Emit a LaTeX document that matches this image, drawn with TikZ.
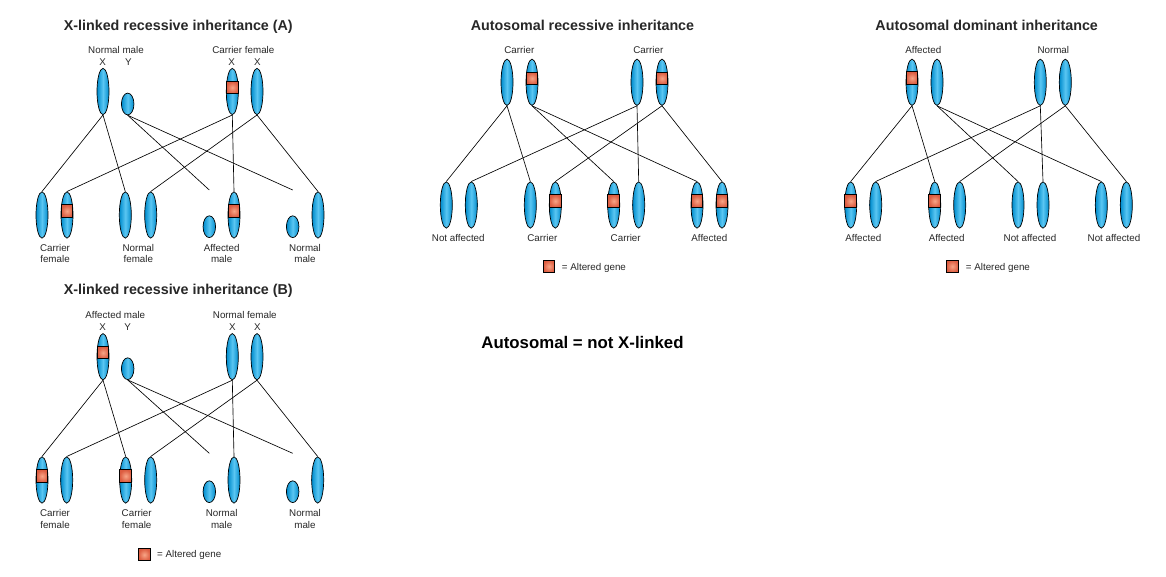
\documentclass[tikz,border=0pt]{standalone}
\usepackage{fontspec}
\setmainfont{Liberation Sans}
\usetikzlibrary{shapes.geometric}
\definecolor{cdark}{RGB}{0,95,160}
\definecolor{cblue}{RGB}{0,140,205}
\definecolor{clight}{RGB}{90,198,242}
\definecolor{gdark}{RGB}{220,92,64}
\definecolor{glight}{RGB}{248,165,135}
\definecolor{txt}{RGB}{40,40,40}
\pgfdeclarehorizontalshading{chromshade}{100bp}{color(0bp)=(cdark); color(25bp)=(cblue); color(50bp)=(clight); color(75bp)=(cblue); color(100bp)=(cdark)}
\tikzset{
  chrom/.style={ellipse, draw=black, line width=0.7pt, minimum width=12pt, minimum height=46.3pt, inner sep=0pt, shading=chromshade},
  ychrom/.style={chrom, minimum width=12.5pt, minimum height=21.8pt},
  gene/.style={rectangle, draw=black, line width=0.9pt, minimum width=11.8pt, minimum height=12.2pt, inner sep=0pt, inner color=glight, outer color=gdark},
  link/.style={draw=black, line width=0.65pt},
  ttl/.style={anchor=base, inner sep=0pt, text=txt, font=\fontsize{14.3}{16}\selectfont\bfseries},
  lbl/.style={anchor=base, inner sep=0pt, text=txt, font=\fontsize{9.8}{11}\selectfont},
  lgd/.style={anchor=base west, inner sep=0pt, text=txt, font=\fontsize{9.8}{11}\selectfont},
  big/.style={anchor=base, inner sep=0pt, text=black, font=\fontsize{16.8}{19}\selectfont\bfseries}
}
\begin{document}
\begin{tikzpicture}[x=1pt,y=-1pt]
\useasboundingbox (0,0) rectangle (1166,576);
\fill[white] (0,0) rectangle (1166,576);

% ================= Panel A =================
\node[ttl] (aT) at (178.3,30.5) {X-linked recessive inheritance (A)};
\node[lbl] (aL1) at (116,53.3) {Normal male};
\node[lbl] (aL1x) at (102.7,65.3) {X};
\node[lbl] (aL1y) at (128.3,65.3) {Y};
\node[lbl] (aL2) at (243.3,53.3) {Carrier female};
\node[lbl] (aL2x) at (231.7,65.3) {X};
\node[lbl] (aL2xx) at (257.3,65.3) {X};

\node[chrom] (aPX) at (103,91.5) {};
\node[ychrom] (aPY) at (127.7,104) {};
\node[chrom] (aPF1) at (232.3,91.5) {};
\node[gene] (aPF1g) at (232.3,87.5) {};
\node[chrom] (aPF2) at (257,91.5) {};

\node[chrom] (aC1a) at (42,215) {};
\node[chrom] (aC1b) at (67,215) {};
\node[gene] (aC1bg) at (67,211) {};
\node[chrom] (aC2a) at (125.3,215) {};
\node[chrom] (aC2b) at (150.7,215) {};
\node[ychrom] (aC3y) at (209.3,226.7) {};
\node[chrom] (aC3x) at (234,215) {};
\node[gene] (aC3xg) at (234,211) {};
\node[ychrom] (aC4y) at (292.7,226.7) {};
\node[chrom] (aC4x) at (318,215) {};
\coordinate (aE3) at (209.3,190);
\coordinate (aE4) at (292.7,190);

\draw[link] (aPX.south) -- (aC1a.north);
\draw[link] (aPX.south) -- (aC2a.north);
\draw[link] (aPY.south) -- (aE3);
\draw[link] (aPY.south) -- (aE4);
\draw[link] (aPF1.south) -- (aC1b.north);
\draw[link] (aPF1.south) -- (aC3x.north);
\draw[link] (aPF2.south) -- (aC2b.north);
\draw[link] (aPF2.south) -- (aC4x.north);

\node[lbl] (aK1a) at (55,251.7) {Carrier};
\node[lbl] (aK1b) at (55,262.3) {female};
\node[lbl] (aK2a) at (138.3,251.7) {Normal};
\node[lbl] (aK2b) at (138.3,262.3) {female};
\node[lbl] (aK3a) at (221.7,251.7) {Affected};
\node[lbl] (aK3b) at (221.7,262.3) {male};
\node[lbl] (aK4a) at (305,251.7) {Normal};
\node[lbl] (aK4b) at (305,262.3) {male};

% ================= Autosomal recessive =================
\node[ttl] (rT) at (582.5,30.5) {Autosomal recessive inheritance};
\node[lbl] (rL1) at (519.3,53.3) {Carrier};
\node[lbl] (rL2) at (648.3,53.3) {Carrier};

\node[chrom] (rP1a) at (507,82.3) {};
\node[chrom] (rP1b) at (532,82.3) {};
\node[gene] (rP1bg) at (532,78.3) {};
\node[chrom] (rP2a) at (637,82.3) {};
\node[chrom] (rP2b) at (662,82.3) {};
\node[gene] (rP2bg) at (662,78.3) {};

\node[chrom] (rC1a) at (446.3,205) {};
\node[chrom] (rC1b) at (471.3,205) {};
\node[chrom] (rC2a) at (530.3,205) {};
\node[chrom] (rC2b) at (555.3,205) {};
\node[gene] (rC2bg) at (555.3,201) {};
\node[chrom] (rC3a) at (613.7,205) {};
\node[gene] (rC3ag) at (613.7,201) {};
\node[chrom] (rC3b) at (638.7,205) {};
\node[chrom] (rC4a) at (697,205) {};
\node[gene] (rC4ag) at (697,201) {};
\node[chrom] (rC4b) at (722,205) {};
\node[gene] (rC4bg) at (722,201) {};

\draw[link] (rP1a.south) -- (rC1a.north);
\draw[link] (rP1a.south) -- (rC2a.north);
\draw[link] (rP1b.south) -- (rC3a.north);
\draw[link] (rP1b.south) -- (rC4a.north);
\draw[link] (rP2a.south) -- (rC1b.north);
\draw[link] (rP2a.south) -- (rC3b.north);
\draw[link] (rP2b.south) -- (rC2b.north);
\draw[link] (rP2b.south) -- (rC4b.north);

\node[lbl] (rK1) at (458.3,241.5) {Not affected};
\node[lbl] (rK2) at (542.3,241.5) {Carrier};
\node[lbl] (rK3) at (625.7,241.5) {Carrier};
\node[lbl] (rK4) at (709.3,241.5) {Affected};

\node[gene] (rLg) at (549,266.3) {};
\node[lgd] (rLt) at (561.7,270) {= Altered gene};

% ================= Autosomal dominant =================
\node[ttl] (dT) at (986.7,30.5) {Autosomal dominant inheritance};
\node[lbl] (dL1) at (923.3,53.3) {Affected};
\node[lbl] (dL2) at (1053.3,53.3) {Normal};

\node[chrom] (dP1a) at (912,82.3) {};
\node[gene] (dP1ag) at (912,78) {};
\node[chrom] (dP1b) at (937,82.3) {};
\node[chrom] (dP2a) at (1040.3,82.3) {};
\node[chrom] (dP2b) at (1065.3,82.3) {};

\node[chrom] (dC1a) at (850.7,205) {};
\node[gene] (dC1ag) at (850.7,201) {};
\node[chrom] (dC1b) at (875.7,205) {};
\node[chrom] (dC2a) at (934.7,205) {};
\node[gene] (dC2ag) at (934.7,201) {};
\node[chrom] (dC2b) at (959.7,205) {};
\node[chrom] (dC3a) at (1018,205) {};
\node[chrom] (dC3b) at (1043,205) {};
\node[chrom] (dC4a) at (1101.3,205) {};
\node[chrom] (dC4b) at (1126.3,205) {};

\draw[link] (dP1a.south) -- (dC1a.north);
\draw[link] (dP1a.south) -- (dC2a.north);
\draw[link] (dP1b.south) -- (dC3a.north);
\draw[link] (dP1b.south) -- (dC4a.north);
\draw[link] (dP2a.south) -- (dC1b.north);
\draw[link] (dP2a.south) -- (dC3b.north);
\draw[link] (dP2b.south) -- (dC2b.north);
\draw[link] (dP2b.south) -- (dC4b.north);

\node[lbl] (dK1) at (863.3,241.5) {Affected};
\node[lbl] (dK2) at (946.7,241.5) {Affected};
\node[lbl] (dK3) at (1030,241.5) {Not affected};
\node[lbl] (dK4) at (1114,241.5) {Not affected};

\node[gene] (dLg) at (952.3,266.3) {};
\node[lgd] (dLt) at (965.7,270) {= Altered gene};

% ================= Panel B =================
\node[ttl] (bT) at (178.3,294) {X-linked recessive inheritance (B)};
\node[lbl] (bL1) at (115.3,318.3) {Affected male};
\node[lbl] (bL1x) at (102.7,330) {X};
\node[lbl] (bL1y) at (127.7,330) {Y};
\node[lbl] (bL2) at (244.8,318.3) {Normal female};
\node[lbl] (bL2x) at (232.3,330) {X};
\node[lbl] (bL2xx) at (257.3,330) {X};

\node[chrom] (bPX) at (103,356.7) {};
\node[gene] (bPXg) at (103,352.7) {};
\node[ychrom] (bPY) at (127.7,368.7) {};
\node[chrom] (bPF1) at (232.3,356.7) {};
\node[chrom] (bPF2) at (257,356.7) {};

\node[chrom] (bC1a) at (42,480) {};
\node[gene] (bC1ag) at (42,476) {};
\node[chrom] (bC1b) at (66.7,480) {};
\node[chrom] (bC2a) at (125.7,480) {};
\node[gene] (bC2ag) at (125.7,476) {};
\node[chrom] (bC2b) at (150.7,480) {};
\node[ychrom] (bC3y) at (209.3,491.7) {};
\node[chrom] (bC3x) at (234,480) {};
\node[ychrom] (bC4y) at (292.7,491.7) {};
\node[chrom] (bC4x) at (317.7,480) {};
\coordinate (bE3) at (209.3,453.3);
\coordinate (bE4) at (292.7,453.3);

\draw[link] (bPX.south) -- (bC1a.north);
\draw[link] (bPX.south) -- (bC2a.north);
\draw[link] (bPY.south) -- (bE3);
\draw[link] (bPY.south) -- (bE4);
\draw[link] (bPF1.south) -- (bC1b.north);
\draw[link] (bPF1.south) -- (bC3x.north);
\draw[link] (bPF2.south) -- (bC2b.north);
\draw[link] (bPF2.south) -- (bC4x.north);

\node[lbl] (bK1a) at (55,516) {Carrier};
\node[lbl] (bK1b) at (55,528.3) {female};
\node[lbl] (bK2a) at (136.7,516) {Carrier};
\node[lbl] (bK2b) at (136.7,528.3) {female};
\node[lbl] (bK3a) at (221.7,516) {Normal};
\node[lbl] (bK3b) at (221.7,528.3) {male};
\node[lbl] (bK4a) at (305,516) {Normal};
\node[lbl] (bK4b) at (305,528.3) {male};

\node[gene] (bLg) at (144.3,554.7) {};
\node[lgd] (bLt) at (157,557.3) {= Altered gene};

% ================= Note =================
\node[big] (note) at (582.5,348.5) {Autosomal = not X-linked};
\end{tikzpicture}
\end{document}
